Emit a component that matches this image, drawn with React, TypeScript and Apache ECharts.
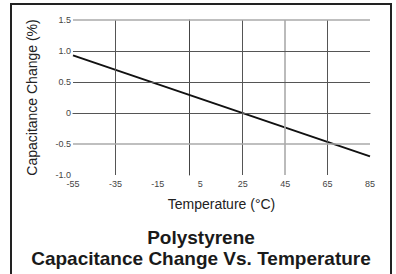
import React, { useEffect, useRef } from "react";
import * as echarts from "echarts";

const temperature = [-55, 85];
const capChange = [0.93, -0.7];
const xTickLabels = [-55, -35, -15, 5, 25, 45, 65, 85];
const yTickLabels = ["-1.0", "-0.5", "0", "0.5", "1.0", "1.5"];
const vGridDark = [-35, 25, 65];
const vGridLight = [45];
const hGridDark = [1.0, 0.5, 0];
const hGridLight = [1.5, -0.5];
const titleLines = ["Polystyrene", "Capacitance Change Vs. Temperature"];
const xName = "Temperature (°C)";
const yName = "Capacitance Change (%)";

const FONT = "'Liberation Sans', Arial, sans-serif";

export default function App() {
  const ref = useRef<HTMLDivElement>(null);
  useEffect(() => {
    if (!ref.current) return;
    const chart = echarts.init(ref.current, null, { renderer: "svg" });
    const yLabelMap: Record<string, string> = {};
    [-1, -0.5, 0, 0.5, 1, 1.5].forEach((v, i) => (yLabelMap[String(v)] = yTickLabels[i]));
    const dark = { color: "#555", width: 1, type: "solid" as const };
    const light = { color: "#aaa", width: 1.6, type: "solid" as const };
    chart.setOption({
      animation: false,
      backgroundColor: "#fff",
      textStyle: { fontFamily: FONT },
      grid: { left: 73, top: 20, right: 26, bottom: 99, containLabel: false },
      xAxis: {
        type: "value",
        min: -55,
        max: 85,
        name: xName,
        nameLocation: "middle",
        nameGap: 22,
        nameTextStyle: { fontSize: 14, color: "#222", fontFamily: FONT },
        axisLine: { show: true, lineStyle: { color: "#444", width: 1 } },
        axisTick: { show: false },
        splitLine: { show: false },
        axisLabel: {
          customValues: xTickLabels,
          fontSize: 9,
          color: "#444",
          margin: 4,
          fontFamily: FONT,
        },
      },
      yAxis: {
        type: "value",
        min: -1,
        max: 1.5,
        interval: 0.5,
        name: yName,
        nameLocation: "middle",
        nameGap: 34,
        nameTextStyle: { fontSize: 14, color: "#222", fontFamily: FONT },
        axisLine: { show: true, lineStyle: { color: "#444", width: 1 } },
        axisTick: { show: false },
        splitLine: { show: false },
        axisLabel: {
          fontSize: 9,
          color: "#444",
          margin: 2,
          fontFamily: FONT,
          formatter: (v: number) => yLabelMap[String(v)] ?? String(v),
        },
      },
      series: [
        {
          type: "line",
          data: temperature.map((t, i) => [t, capChange[i]]),
          symbol: "none",
          lineStyle: { color: "#111", width: 2 },
          markLine: {
            silent: true,
            symbol: "none",
            label: { show: false },
            data: [
              ...vGridDark.map((x) => ({ xAxis: x, lineStyle: dark })),
              ...vGridLight.map((x) => ({ xAxis: x, lineStyle: light })),
              ...hGridDark.map((y) => ({ yAxis: y, lineStyle: dark })),
              ...hGridLight.map((y) => ({ yAxis: y, lineStyle: light })),
            ],
          },
          z: 3,
        },
      ],
      graphic: [
        {
          type: "rect",
          shape: { x: 11, y: 4, width: 380, height: 290 },
          style: { fill: "none", stroke: "#222", lineWidth: 2 },
          silent: true,
        },
        {
          type: "text",
          x: 201,
          y: 237,
          style: {
            text: titleLines[0],
            font: `bold 19px ${FONT}`,
            fill: "#1a1a1a",
            textAlign: "center",
            textVerticalAlign: "middle",
          },
        },
        {
          type: "text",
          x: 201,
          y: 258,
          style: {
            text: titleLines[1],
            font: `bold 19px ${FONT}`,
            fill: "#1a1a1a",
            textAlign: "center",
            textVerticalAlign: "middle",
          },
        },
      ],
    });
    return () => chart.dispose();
  }, []);
  return (
    <div
      ref={ref}
      style={{ position: "fixed", left: 0, top: 0, width: 396, height: 274 }}
    />
  );
}
